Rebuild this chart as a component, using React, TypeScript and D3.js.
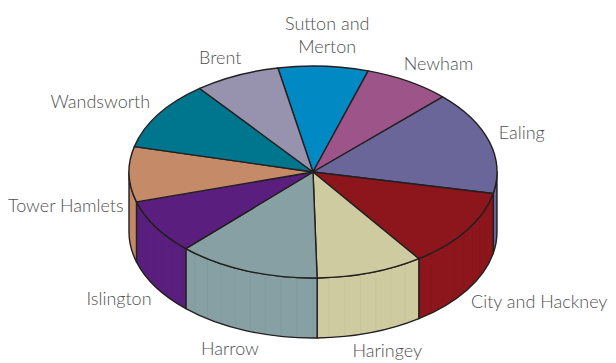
import React from "react";
import * as d3 from "d3";

const categories = [
  "Sutton and Merton",
  "Newham",
  "Ealing",
  "City and Hackney",
  "Haringey",
  "Harrow",
  "Islington",
  "Tower Hamlets",
  "Wandsworth",
  "Brent",
];
const labelLines = [
  ["Sutton and", "Merton"],
  ["Newham"],
  ["Ealing"],
  ["City and Hackney"],
  ["Haringey"],
  ["Harrow"],
  ["Islington"],
  ["Tower Hamlets"],
  ["Wandsworth"],
  ["Brent"],
];
const values = [7.9, 7.6, 15.8, 12.0, 9.4, 12.5, 8.3, 8.4, 10.6, 7.5];
const colors = [
  "#0189c4",
  "#9c5489",
  "#6b6699",
  "#8d161c",
  "#cfcba0",
  "#86a0a3",
  "#5a1f7e",
  "#c58a68",
  "#00758e",
  "#9793af",
];

const W = 616;
const H = 363;
const cx = 313;
const cy = 172;
const rx = 184;
const ry = 106;
const depth = 60;
const startDeg = -11;
const fontSize = 18;
const fontFamily = "Lato, 'Open Sans', sans-serif";

const pt = (a: number, dy = 0): [number, number] => [
  cx + rx * Math.sin(a),
  cy - ry * Math.cos(a) + dy,
];

let measureCtx: CanvasRenderingContext2D | null = null;
function textWidth(s: string): number {
  if (!measureCtx && typeof document !== "undefined") {
    measureCtx = document.createElement("canvas").getContext("2d");
  }
  if (!measureCtx) return s.length * fontSize * 0.47;
  measureCtx.font = `300 ${fontSize}px ${fontFamily}`;
  return measureCtx.measureText(s).width;
}

export default function App() {
  const pie = d3
    .pie<number>()
    .sort(null)
    .value((d) => d)
    .startAngle((startDeg * Math.PI) / 180)
    .endAngle((startDeg * Math.PI) / 180 + 2 * Math.PI);
  const arcs = pie(values);
  const stroke = "#231f20";

  const sides = arcs
    .map((a, i) => {
      const s = Math.max(a.startAngle, Math.PI / 2);
      const e = Math.min(a.endAngle, (3 * Math.PI) / 2);
      if (e <= s) return null;
      const p0 = pt(s);
      const p1 = pt(e);
      const q1 = pt(e, depth);
      const q0 = pt(s, depth);
      const d = `M${p0[0]},${p0[1]} A${rx},${ry} 0 0 1 ${p1[0]},${p1[1]} L${q1[0]},${q1[1]} A${rx},${ry} 0 0 0 ${q0[0]},${q0[1]} Z`;
      return <path key={"s" + i} d={d} fill={colors[i]} stroke={stroke} strokeWidth={1.4} strokeLinejoin="round" />;
    })
    .filter(Boolean);

  const stripes = d3.range(95, 270, 5).map((deg) => {
    const a = (deg * Math.PI) / 180;
    const p = pt(a);
    const q = pt(a, depth);
    return <line key={"st" + deg} x1={p[0]} y1={p[1]} x2={q[0]} y2={q[1]} stroke="#000" strokeOpacity={0.035} strokeWidth={1} />;
  });

  const tops = arcs.map((a, i) => {
    const p0 = pt(a.startAngle);
    const p1 = pt(a.endAngle);
    const large = a.endAngle - a.startAngle > Math.PI ? 1 : 0;
    const d = `M${cx},${cy} L${p0[0]},${p0[1]} A${rx},${ry} 0 ${large} 1 ${p1[0]},${p1[1]} Z`;
    return <path key={"t" + i} d={d} fill={colors[i]} stroke={stroke} strokeWidth={1.4} strokeLinejoin="round" />;
  });

  const labels = arcs.map((a, i) => {
    const m = (a.startAngle + a.endAngle) / 2;
    const s = Math.sin(m);
    const c = Math.cos(m);
    const t = Math.max(0, Math.min(1, 0.45 - 3 * c));
    const pad = c > 0 ? 10 : 5;
    const x = cx + (rx + pad) * s;
    const y = cy - (ry + 15) * c - 5 + (depth + 8) * t;
    const lines = labelLines[i];
    const widths = lines.map(textWidth);
    const blockW = d3.max(widths) as number;
    const frac = Math.max(0, Math.min(1, 0.5 - s * 0.7));
    const x0 = x - frac * blockW;
    const lh = 23;
    return (
      <text
        key={"l" + i}
        x={x0}
        y={y}
        textAnchor="start"
        fontFamily={fontFamily}
        fontWeight={300}
        fontSize={fontSize}
        fill="#505050"
      >
        {lines.map((ln, j) => {
          const lx = x0 + (blockW - widths[j]) / 2;
          return (
            <tspan key={j} x={lx} y={y - (lines.length - 1 - j) * lh} dominantBaseline="central">
              {ln}
            </tspan>
          );
        })}
      </text>
    );
  });

  return (
    <svg
      width={W}
      height={H}
      style={{ position: "absolute", left: 0, top: 0, background: "#fff" }}
      viewBox={`0 0 ${W} ${H}`}
    >
      <g>{sides}</g>
      <g>{stripes}</g>
      <g>{tops}</g>
      <g>{labels}</g>
    </svg>
  );
}
